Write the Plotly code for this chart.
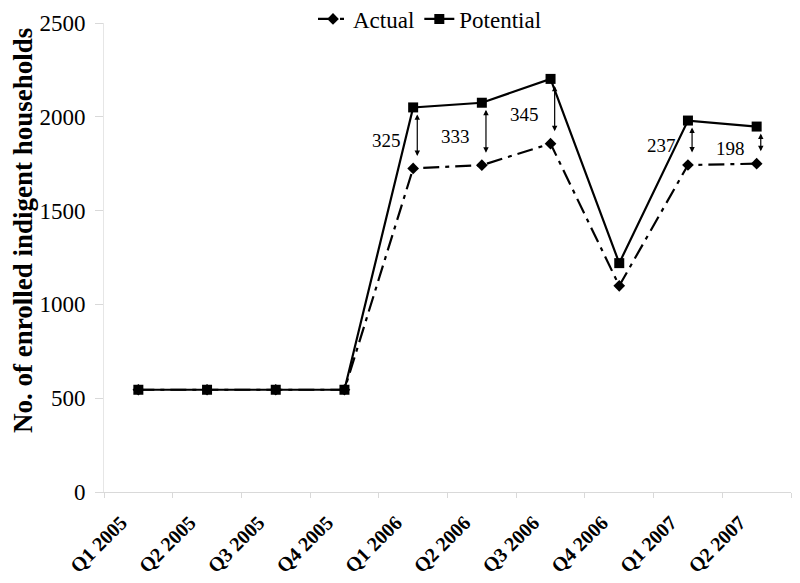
import plotly.graph_objects as go

quarters = ["Q1 2005", "Q2 2005", "Q3 2005", "Q4 2005", "Q1 2006",
            "Q2 2006", "Q3 2006", "Q4 2006", "Q1 2007", "Q2 2007"]
actual = [545, 545, 545, 545, 1725, 1742, 1857, 1099, 1743, 1750]
potential = [545, 545, 545, 545, 2050, 2075, 2202, 1220, 1980, 1948]
gap_quarters = ["Q1 2006", "Q2 2006", "Q3 2006", "Q1 2007", "Q2 2007"]
gap_labels = ["325", "333", "345", "237", "198"]
y_title = "No. of enrolled indigent households"

FONT = "Liberation Serif, Times New Roman, serif"

fig = go.Figure()
fig.add_trace(go.Scatter(
    x=quarters, y=actual, name="Actual", mode="lines+markers",
    line=dict(color="black", width=2.2, dash="16px,6px,4px,6px"),
    marker=dict(symbol="diamond", size=9, color="black"),
))
fig.add_trace(go.Scatter(
    x=quarters, y=potential, name="Potential", mode="lines+markers",
    line=dict(color="black", width=2.2),
    marker=dict(symbol="square", size=10, color="black"),
))

for q, lab in zip(gap_quarters, gap_labels):
    i = quarters.index(q)
    a, p = actual[i], potential[i]
    fig.add_annotation(
        x=i + 0.06, y=p, ax=i + 0.06, ay=a, xref="x", yref="y",
        axref="x", ayref="y", text="", showarrow=True,
        arrowhead=2, arrowside="end+start", arrowsize=0.9, arrowwidth=1.2,
        arrowcolor="black", standoff=7, startstandoff=11,
    )
    fig.add_annotation(
        x=i, y=(a + p) / 2, xref="x", yref="y", text=lab, showarrow=False,
        xanchor="right", xshift=-10, yshift=-3,
        font=dict(family=FONT, size=19, color="black"),
    )

# y-axis title
fig.add_annotation(
    x=-0.118, y=0.5586, xref="paper", yref="paper", text="<b>" + y_title + "</b>",
    textangle=-90, showarrow=False, xanchor="center", yanchor="middle",
    font=dict(family=FONT, size=27, color="black"),
)

fig.update_layout(
    width=800, height=583,
    margin=dict(l=96, r=17, t=15, b=99, autoexpand=False),
    plot_bgcolor="white", paper_bgcolor="white",
    font=dict(family=FONT, color="black"),
    showlegend=True,
    legend=dict(orientation="h", xref="container", yref="container",
                x=0.5275, xanchor="center", y=1 - 11 / 583, yanchor="middle",
                font=dict(family=FONT, size=23), itemwidth=30, tracegroupgap=0,
                bgcolor="rgba(0,0,0,0)"),
    xaxis=dict(
        type="category", range=[-0.5, 9.5], showgrid=False, automargin=False,
        showline=True, linecolor="#d9d9d9", linewidth=1,
        ticks="outside", tickson="boundaries", ticklen=5, tickcolor="#d9d9d9",
        tickangle=-45, ticklabelstandoff=10, ticklabelshift=-17,
        tickfont=dict(family=FONT, size=20, color="black", weight="bold"),
    ),
    yaxis=dict(
        range=[0, 2500], dtick=500, showgrid=False, automargin=False,
        showline=True, linecolor="#e6e6e6", linewidth=1,
        ticks="outside", ticklen=8, tickcolor="#d9d9d9", ticklabelstandoff=5,
        tickfont=dict(family=FONT, size=23, color="black"),
        zeroline=False,
    ),
)

fig.write_html("out.html")
